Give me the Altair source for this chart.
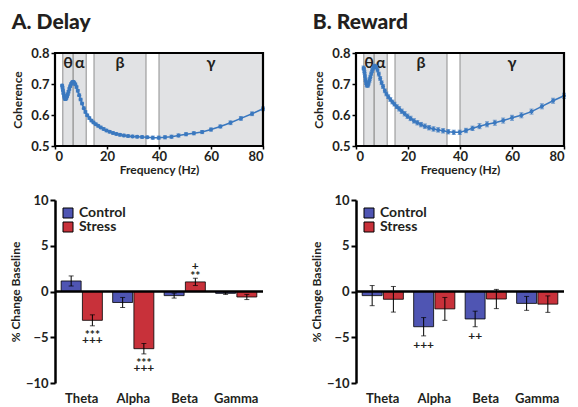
import altair as alt
import pandas as pd

# ---------------- data ----------------
FREQ = [2.73, 2.89, 3.07, 3.25, 3.45, 3.65, 3.87, 4.11, 4.35, 4.62,
        4.89, 5.19, 5.5, 5.83, 6.18, 6.55, 6.94, 7.36, 7.8, 8.27,
        8.77, 9.3, 9.85, 10.4, 11.1, 11.7, 12.4, 13.2, 14.0, 14.8,
        15.7, 16.6, 17.6, 18.7, 19.8, 21.0, 22.3, 23.6, 25.0, 26.5,
        28.1, 29.8, 31.6, 33.5, 35.5, 37.6, 39.9, 42.3, 44.8, 47.5,
        50.4, 53.4, 56.6, 60.0, 63.6, 67.5, 71.5, 75.8, 80.0]

COH_DELAY = [0.695, 0.688, 0.679, 0.670, 0.662, 0.656, 0.652, 0.652, 0.655, 0.660,
             0.667, 0.675, 0.684, 0.693, 0.700, 0.705, 0.707, 0.705, 0.699, 0.690,
             0.678, 0.664, 0.650, 0.637, 0.622, 0.610, 0.599, 0.590, 0.582, 0.576,
             0.570, 0.565, 0.560, 0.555, 0.550, 0.546, 0.542, 0.539, 0.536, 0.534,
             0.532, 0.531, 0.530, 0.529, 0.528, 0.527, 0.527, 0.528, 0.530, 0.534,
             0.538, 0.541, 0.545, 0.553, 0.563, 0.575, 0.589, 0.604, 0.620]
ERR_DELAY = [0.004, 0.004, 0.004, 0.004, 0.004, 0.004, 0.004, 0.004, 0.004, 0.004,
             0.004, 0.004, 0.004, 0.004, 0.004, 0.004, 0.004, 0.004, 0.004, 0.004,
             0.004, 0.004, 0.004, 0.004, 0.004, 0.004, 0.004, 0.004, 0.004, 0.004,
             0.004, 0.004, 0.004, 0.004, 0.004, 0.004, 0.004, 0.004, 0.004, 0.004,
             0.004, 0.004, 0.004, 0.004, 0.004, 0.005, 0.005, 0.005, 0.005, 0.005,
             0.005, 0.005, 0.005, 0.005, 0.005, 0.006, 0.006, 0.006, 0.006]

FREQ_REWARD = FREQ[1:]
COH_REWARD = [0.752, 0.748, 0.738, 0.726, 0.714, 0.704, 0.698, 0.695, 0.697, 0.703,
              0.712, 0.722, 0.733, 0.743, 0.751, 0.756, 0.758, 0.754, 0.745, 0.732,
              0.718, 0.704, 0.692, 0.678, 0.668, 0.659, 0.650, 0.642, 0.635, 0.627,
              0.620, 0.612, 0.604, 0.596, 0.589, 0.581, 0.575, 0.569, 0.564, 0.559,
              0.555, 0.552, 0.549, 0.546, 0.544, 0.544, 0.550, 0.557, 0.564, 0.570,
              0.575, 0.582, 0.591, 0.599, 0.611, 0.628, 0.646, 0.662]
ERR_REWARD = [0.006, 0.006, 0.006, 0.006, 0.006, 0.006, 0.006, 0.006, 0.006, 0.006,
              0.006, 0.006, 0.006, 0.006, 0.006, 0.006, 0.006, 0.006, 0.006, 0.006,
              0.006, 0.006, 0.006, 0.006, 0.006, 0.006, 0.006, 0.006, 0.006, 0.006,
              0.007, 0.007, 0.007, 0.007, 0.007, 0.007, 0.007, 0.007, 0.007, 0.007,
              0.007, 0.007, 0.007, 0.007, 0.007, 0.007, 0.007, 0.007, 0.008, 0.008,
              0.008, 0.008, 0.008, 0.008, 0.008, 0.008, 0.008, 0.008]

BAND_NAMES = ["θ", "α", "β", "γ"]
BAND_LO = [3, 7, 15, 40]
BAND_HI = [7, 12, 35, 80]

CATS = ["Theta", "Alpha", "Beta", "Gamma"]
GROUPS = ["Control", "Stress"]

DELAY_CONTROL = [1.15, -1.2, -0.45, -0.2]
DELAY_CONTROL_ERR = [0.55, 0.55, 0.27, 0.12]
DELAY_STRESS = [-3.15, -6.25, 1.05, -0.6]
DELAY_STRESS_ERR = [0.6, 0.57, 0.4, 0.28]
# significance marks: first line next to the error bar, second line further away
DELAY_CONTROL_MARK1 = ["", "", "", ""]
DELAY_CONTROL_MARK2 = ["", "", "", ""]
DELAY_STRESS_MARK1 = ["***", "***", "**", ""]
DELAY_STRESS_MARK2 = ["+++", "+++", "+", ""]

REWARD_CONTROL = [-0.45, -3.85, -3.0, -1.3]
REWARD_CONTROL_ERR = [1.1, 1.0, 0.85, 0.76]
REWARD_STRESS = [-0.85, -1.9, -0.82, -1.38]
REWARD_STRESS_ERR = [1.4, 1.25, 1.05, 0.9]
REWARD_CONTROL_MARK1 = ["", "+++", "++", ""]
REWARD_CONTROL_MARK2 = ["", "", "", ""]
REWARD_STRESS_MARK1 = ["", "", "", ""]
REWARD_STRESS_MARK2 = ["", "", "", ""]

# ---------------- style ----------------
FONT = "Lato"
INK = "#231f20"
CURVE = "#3a78bf"
BAND_FILL = "#e1e2e4"
CTRL = "#4f55b3"
STRS = "#c8313a"

W = 208
H_TOP = 93
H_BOT = 183


def curve_panel(title, freqs, coh, err):
    df = pd.DataFrame({"f": freqs, "c": coh, "e": err})
    bands = pd.DataFrame({"name": BAND_NAMES, "lo": BAND_LO, "hi": BAND_HI})
    xs = alt.Scale(domain=[0, 80], nice=False, zero=False)
    ys = alt.Scale(domain=[0.5, 0.8], nice=False, zero=False)
    xax = alt.Axis(values=[0, 20, 40, 60, 80], title="Frequency (Hz)", domain=False,
                   tickSize=3, tickColor="black", tickWidth=1.5, labelPadding=1,
                   titlePadding=1, grid=False, labelOverlap=False)
    yax = alt.Axis(values=[0.5, 0.6, 0.7, 0.8], format=".1f", title="Coherence",
                   domain=False, tickSize=4, tickColor="black", tickWidth=1.5,
                   labelPadding=2, titlePadding=6, grid=False, labelOverlap=False)

    def X(f):
        return alt.X(f, scale=xs, axis=xax)

    def Y(f):
        return alt.Y(f, scale=ys, axis=yax)

    rect = alt.Chart(bands).mark_rect(fill=BAND_FILL, stroke="#8e8e8e", strokeWidth=1).encode(
        x=X("lo:Q"), x2="hi:Q")
    greek = alt.Chart(bands).transform_calculate(mid="(datum.lo + datum.hi) / 2").mark_text(
        font=FONT, fontSize=16, fontWeight="bold", color=INK, baseline="top", dy=2).encode(
        x=X("mid:Q"), y=alt.YDatum(0.8, scale=ys, axis=yax), text="name:N")
    line = alt.Chart(df).mark_line(color=CURVE, strokeWidth=1.5).encode(x=X("f:Q"), y=Y("c:Q"))
    ebar = alt.Chart(df).transform_calculate(
        lo="datum.c - datum.e", hi="datum.c + datum.e").mark_rule(
        color=CURVE, strokeWidth=1).encode(x=X("f:Q"), y=Y("lo:Q"), y2="hi:Q")
    caps = alt.Chart(df).transform_calculate(
        lo="datum.c - datum.e", hi="datum.c + datum.e").transform_fold(
        ["lo", "hi"], as_=["k", "v"]).mark_tick(
        orient="horizontal", size=4, thickness=1, color=CURVE).encode(x=X("f:Q"), y=Y("v:Q"))
    pts = alt.Chart(df).mark_point(filled=True, size=16, color=CURVE, opacity=1).encode(
        x=X("f:Q"), y=Y("c:Q"))
    frame = alt.Chart(pd.DataFrame({"k": [0]})).mark_rect(
        fill="transparent", stroke="black", strokeWidth=2.2).encode(
        x=alt.XDatum(0, scale=xs, axis=xax), x2=alt.X2Datum(80),
        y=alt.YDatum(0.5, scale=ys, axis=yax), y2=alt.Y2Datum(0.8))
    return alt.layer(rect, greek, line, ebar, caps, pts, frame).properties(
        width=W, height=H_TOP,
        title=alt.TitleParams(title, anchor="start", frame="bounds", font=FONT, fontSize=21,
                              fontWeight=900, color=INK, offset=14, baseline="top"))


def bar_panel(ctrl, ctrl_err, strs, strs_err, cm1, cm2, sm1, sm2):
    rows = []
    for i, cat in enumerate(CATS):
        rows.append({"cat": cat, "group": "Control", "v": ctrl[i], "e": ctrl_err[i],
                     "m1": cm1[i], "m2": cm2[i]})
        rows.append({"cat": cat, "group": "Stress", "v": strs[i], "e": strs_err[i],
                     "m1": sm1[i], "m2": sm2[i]})
    df = pd.DataFrame(rows)
    xs = alt.Scale(domain=CATS, paddingInner=0.2, paddingOuter=0.12)
    xax = alt.Axis(title=None, domain=False, ticks=False, labelAngle=0, labelFontSize=13,
                   labelPadding=9, grid=False)
    ys = alt.Scale(domain=[-10, 10], nice=False)
    yax = alt.Axis(values=[-10, -5, 0, 5, 10], title="% Change Baseline", domain=True,
                   domainColor="black", domainWidth=2.5, tickColor="black", tickWidth=2,
                   tickSize=5, labelPadding=2, titlePadding=3, grid=False, labelOverlap=False)

    def X():
        return alt.X("cat:N", sort=CATS, scale=xs, axis=xax)

    def XO():
        return alt.XOffset("group:N", sort=GROUPS, scale=alt.Scale(paddingInner=0.06))

    def Y(f):
        return alt.Y(f, scale=ys, axis=yax)

    base = alt.Chart(df)
    bars = base.mark_bar(stroke="black", strokeWidth=0.8).encode(
        x=X(), xOffset=XO(), y=Y("v:Q"),
        color=alt.Color("group:N", sort=GROUPS,
                        scale=alt.Scale(domain=GROUPS, range=[CTRL, STRS]),
                        legend=alt.Legend(orient="top-left", title=None, offset=6,
                                          symbolType="square", symbolSize=100,
                                          symbolStrokeColor="black", symbolStrokeWidth=1,
                                          labelFont=FONT, labelFontSize=14,
                                          labelFontWeight="bold", labelColor=INK,
                                          rowPadding=0, padding=0)))
    err = base.transform_calculate(
        lo="datum.v - datum.e", hi="datum.v + datum.e",
        tip="datum.v < 0 ? datum.v - datum.e : datum.v + datum.e")
    rule = err.mark_rule(color="black", strokeWidth=1).encode(
        x=X(), xOffset=XO(), y=Y("lo:Q"), y2="hi:Q")
    caps = err.transform_fold(["lo", "hi"], as_=["k", "val"]).mark_tick(
        orient="horizontal", size=5, thickness=1, color="black").encode(
        x=X(), xOffset=XO(), y=Y("val:Q"))
    zero = alt.Chart(pd.DataFrame({"k": [0]})).mark_rule(color="black", strokeWidth=2.5).encode(
        y=alt.YDatum(0, scale=ys, axis=yax))
    txt = dict(baseline="middle", fontSize=12, font=FONT, fontWeight="bold", color=INK)
    # below negative bars
    b1 = err.transform_filter("datum.m1 != '' && datum.v < 0").mark_text(dy=9, **txt).encode(
        x=X(), xOffset=XO(), y=Y("tip:Q"), text="m1:N")
    b2 = err.transform_filter("datum.m2 != '' && datum.v < 0").mark_text(dy=14, **txt).encode(
        x=X(), xOffset=XO(), y=Y("tip:Q"), text="m2:N")
    # above positive bars
    a1 = err.transform_filter("datum.m1 != '' && datum.v >= 0").mark_text(dy=-2, **txt).encode(
        x=X(), xOffset=XO(), y=Y("tip:Q"), text="m1:N")
    a2 = err.transform_filter("datum.m2 != '' && datum.v >= 0").mark_text(dy=-12, **txt).encode(
        x=X(), xOffset=XO(), y=Y("tip:Q"), text="m2:N")
    return alt.layer(bars, rule, caps, zero, b1, b2, a1, a2).properties(width=W, height=H_BOT)


tl = curve_panel("A.  Delay", FREQ, COH_DELAY, ERR_DELAY)
tr = curve_panel("B.  Reward", FREQ_REWARD, COH_REWARD, ERR_REWARD)
bl = bar_panel(DELAY_CONTROL, DELAY_CONTROL_ERR, DELAY_STRESS, DELAY_STRESS_ERR,
               DELAY_CONTROL_MARK1, DELAY_CONTROL_MARK2, DELAY_STRESS_MARK1, DELAY_STRESS_MARK2)
br = bar_panel(REWARD_CONTROL, REWARD_CONTROL_ERR, REWARD_STRESS, REWARD_STRESS_ERR,
               REWARD_CONTROL_MARK1, REWARD_CONTROL_MARK2, REWARD_STRESS_MARK1,
               REWARD_STRESS_MARK2)

left = alt.vconcat(tl, bl, spacing=17).resolve_scale(color="independent")
right = alt.vconcat(tr, br, spacing=17).resolve_scale(color="independent")

chart = alt.hconcat(left, right, spacing=42).resolve_scale(color="independent").properties(
    padding={"left": 0, "top": 3, "right": 0, "bottom": 0}
).configure_axis(
    labelFont=FONT, titleFont=FONT, labelFontSize=13, titleFontSize=12,
    labelFontWeight="bold", titleFontWeight="bold", labelColor=INK, titleColor=INK
).configure_view(stroke="transparent")

chart.save("out.html", embed_options={"renderer": "svg", "actions": False})
